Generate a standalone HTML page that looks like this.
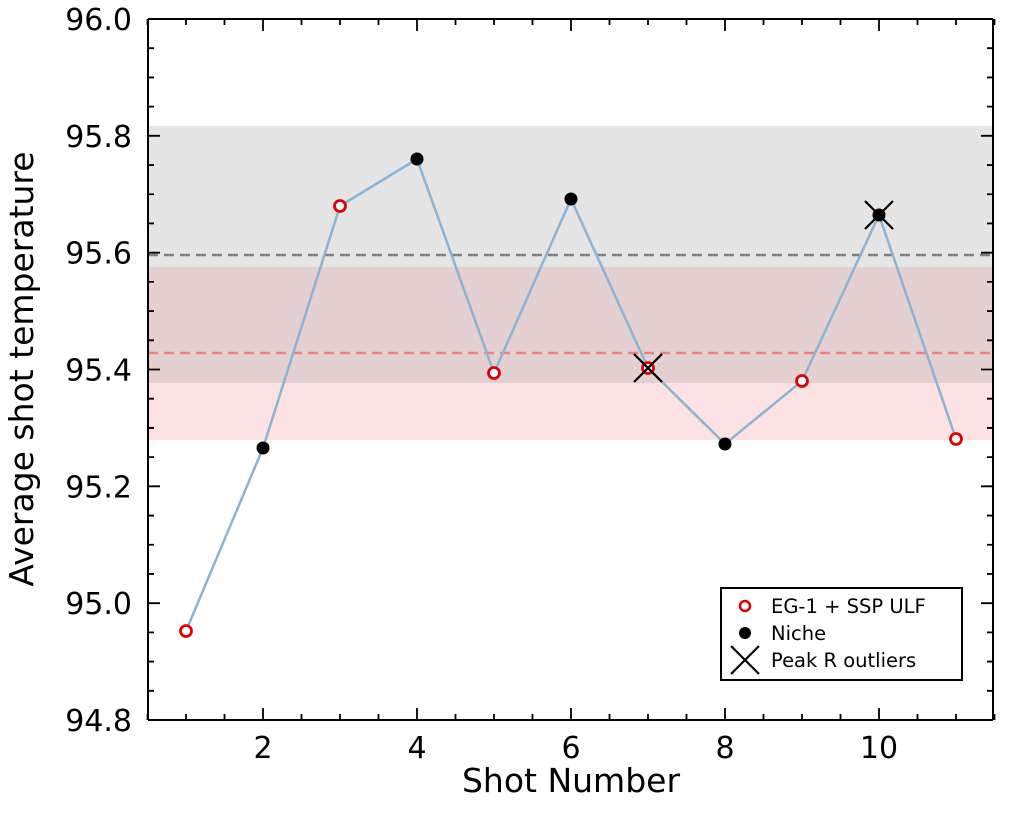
<!DOCTYPE html>
<html><head><meta charset="utf-8"><style>body{margin:0;background:#fff}</style></head><body>
<svg width="1024" height="819" xmlns="http://www.w3.org/2000/svg" font-family="DejaVu Sans, sans-serif">
<rect x="148" y="267" width="845" height="173" fill="#fde2e3"/>
<rect x="148" y="126" width="845" height="141" fill="#e5e5e5"/>
<rect x="148" y="267" width="845" height="116" fill="#e4d0d0"/>
<line x1="148" y1="255" x2="993" y2="255" stroke="#808080" stroke-width="2.5" stroke-dasharray="10,6"/>
<line x1="148" y1="353" x2="993" y2="353" stroke="#f08080" stroke-width="2.5" stroke-dasharray="10,6"/>
<polyline fill="none" stroke="#8ab4d6" stroke-width="2.5" points="186,631 263,448 340,206 417,159 494,373 571,199 648,368 725,444 802,381 879,215 956,439"/>
<g fill="#fff" stroke="#e00000" stroke-width="2.8">
<circle cx="186" cy="631" r="5.5"/><circle cx="340" cy="206" r="5.5"/><circle cx="494" cy="373" r="5.5"/><circle cx="648" cy="368" r="5.5"/><circle cx="802" cy="381" r="5.5"/><circle cx="956" cy="439" r="5.5"/>
</g>
<g fill="#000"><circle cx="263" cy="448" r="6.5"/><circle cx="417" cy="159" r="6.5"/><circle cx="571" cy="199" r="6.5"/><circle cx="725" cy="444" r="6.5"/><circle cx="879" cy="215" r="6.5"/></g>
<g stroke="#000" stroke-width="2.2"><path d="M634 354 L662 382 M662 354 L634 382"/><path d="M865 201 L893 229 M893 201 L865 229"/></g>
<path d="M148 19V720M993 19V720M148 19H993M148 720H993" fill="none" stroke="#000" stroke-width="2"/>
<g stroke="#000" stroke-width="1.8" id="ticks"></g>
<g font-size="30" fill="#000" text-anchor="end" id="yl"></g>
<g font-size="30" fill="#000" text-anchor="middle" id="xl"></g>
<text x="571" y="792" font-size="33" text-anchor="middle">Shot Number</text>
<text transform="translate(33,369) rotate(-90)" font-size="33" text-anchor="middle">Average shot temperature</text>
<rect x="721" y="588" width="241" height="92" fill="#fff" stroke="#000" stroke-width="2"/>
<circle cx="745" cy="606" r="5" fill="#fff" stroke="#e00000" stroke-width="2.5"/>
<circle cx="745" cy="633" r="6" fill="#000"/>
<path d="M731 646 L759 674 M759 646 L731 674" stroke="#000" stroke-width="2.2"/>
<g font-size="19.5"><text x="771" y="613">EG-1 + SSP ULF</text><text x="771" y="640">Niche</text><text x="771" y="667">Peak R outliers</text></g>
<script>
var ns="http://www.w3.org/2000/svg",tk=document.getElementById('ticks'),d="";
for(var i=0;i<=24;i++){var y=720-i*701/24,L=(i%4==0)?12:6;d+="M148 "+y+"h"+L+"M993 "+y+"h-"+L;}
for(var v=0.5;v<=11.5;v+=0.5){var x=186+(v-1)*77,L=(v%2==0)?12:6;d+="M"+x+" 720v-"+L+"M"+x+" 19v"+L;}
var p=document.createElementNS(ns,'path');p.setAttribute('d',d);tk.appendChild(p);
var yl=document.getElementById('yl');
for(var i=0;i<=6;i++){var t=document.createElementNS(ns,'text');t.setAttribute('x',132);t.setAttribute('y',720-i*701/6+11);t.textContent=(94.8+i*0.2).toFixed(1);yl.appendChild(t);}
var xl=document.getElementById('xl');
for(var v=2;v<=10;v+=2){var t=document.createElementNS(ns,'text');t.setAttribute('x',186+(v-1)*77);t.setAttribute('y',758);t.textContent=v;xl.appendChild(t);}
</script>
</svg>
</body></html>
